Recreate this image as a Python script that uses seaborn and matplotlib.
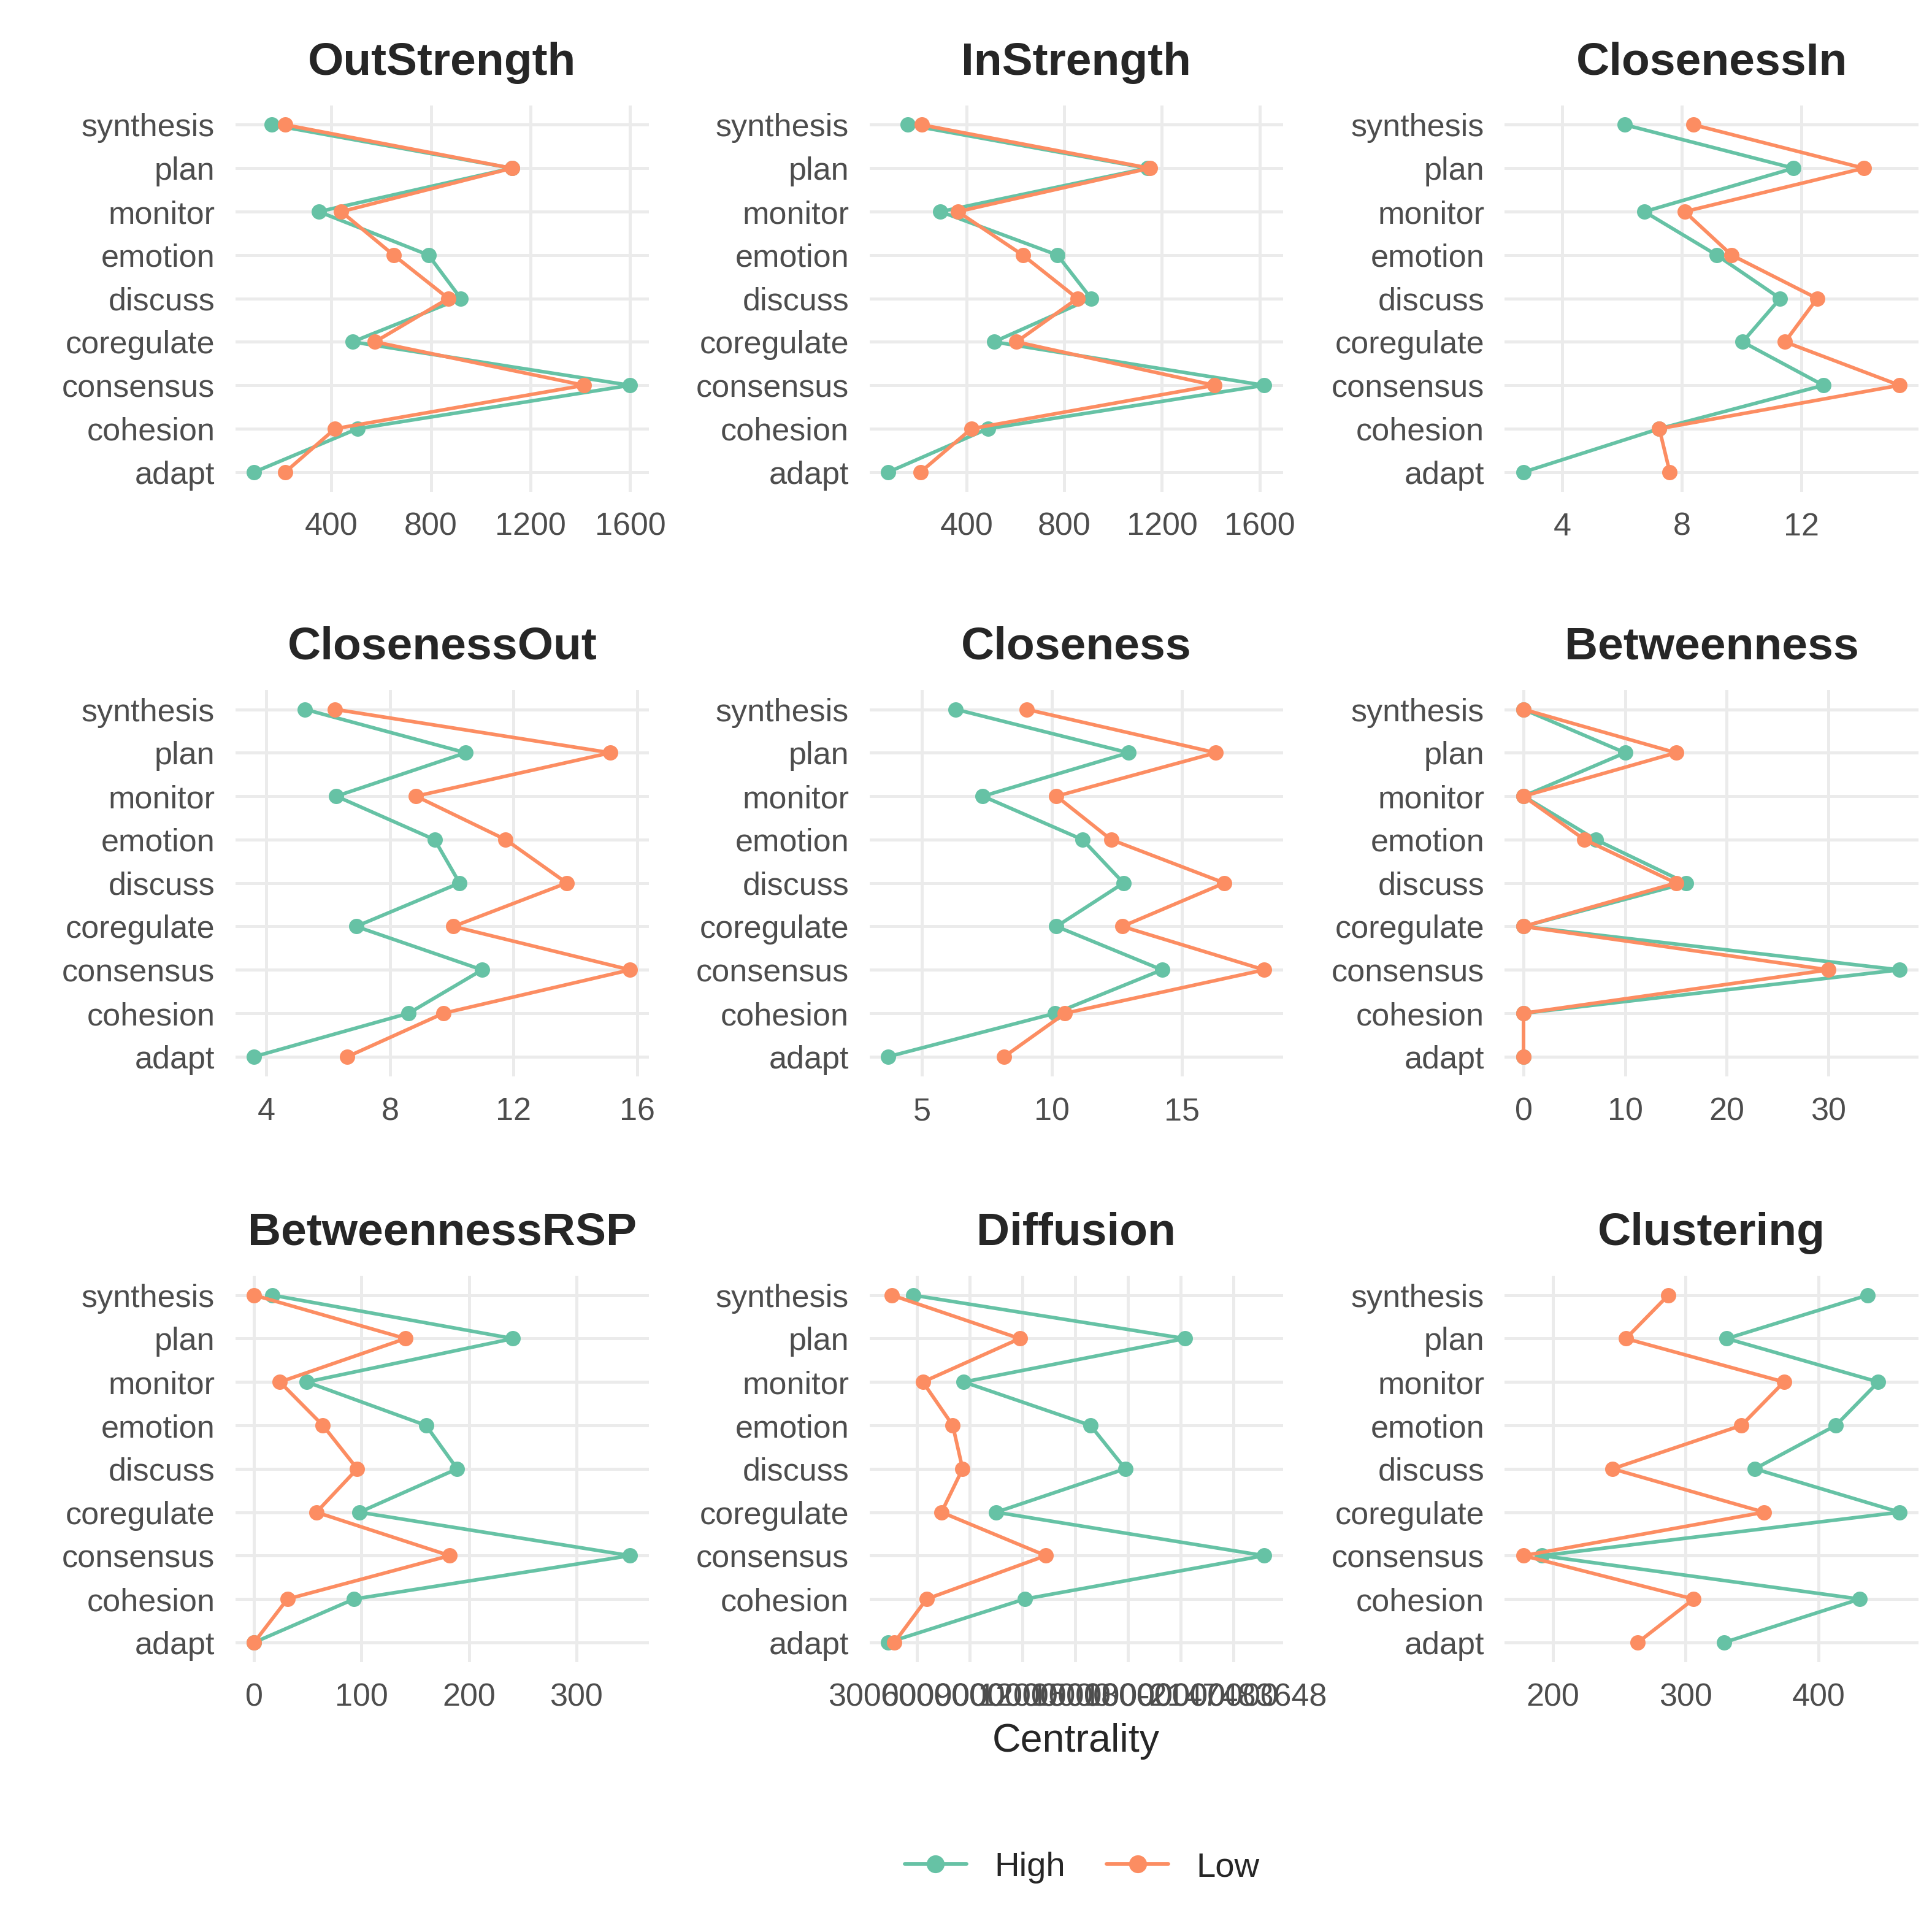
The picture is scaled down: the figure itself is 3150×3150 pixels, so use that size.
import numpy as np
import pandas as pd
import matplotlib.pyplot as plt
import seaborn as sns
from matplotlib.lines import Line2D

states = ['synthesis', 'plan', 'monitor', 'emotion', 'discuss', 'coregulate', 'consensus', 'cohesion', 'adapt']

measures = ['OutStrength', 'InStrength', 'ClosenessIn', 'ClosenessOut', 'Closeness',
            'Betweenness', 'BetweennessRSP', 'Diffusion', 'Clustering']

high = {
    'OutStrength': [160, 1125, 350, 790, 920, 485, 1600, 505, 90],
    'InStrength': [160, 1140, 293, 772, 910, 512, 1619, 487, 79],
    'ClosenessIn': [6.1, 11.75, 6.75, 9.17, 11.3, 10.04, 12.75, 7.25, 2.7],
    'ClosenessOut': [5.25, 10.45, 6.26, 9.44, 10.25, 6.9, 10.98, 8.6, 3.6],
    'Closeness': [6.3, 12.94, 7.34, 11.17, 12.75, 10.17, 14.23, 10.12, 3.7],
    'Betweenness': [0, 10, 0, 7.1, 16, 0, 37, 0, 0],
    'BetweennessRSP': [17, 241, 49, 160, 189, 98, 350, 93, 0],
    'Diffusion': [2.79, 18.25, 5.68, 12.88, 14.86, 7.52, 22.76, 9.14, 1.38],
    'Clustering': [437, 331, 445, 413, 352, 461, 192, 431, 329],
}
low = {
    'OutStrength': [215, 1125, 440, 650, 870, 575, 1415, 415, 215],
    'InStrength': [216, 1150, 364, 630, 854, 604, 1415, 420, 211],
    'ClosenessIn': [8.4, 14.1, 8.1, 9.67, 12.54, 11.46, 15.3, 7.25, 7.6],
    'ClosenessOut': [6.22, 15.13, 8.84, 11.74, 13.72, 10.05, 15.77, 9.73, 6.62],
    'Closeness': [9.02, 16.3, 10.17, 12.27, 16.63, 12.7, 18.16, 10.5, 8.16],
    'Betweenness': [0, 15, 0, 6, 15, 0, 30, 0, 0],
    'BetweennessRSP': [0, 141, 24, 64, 96, 58, 182, 31, 0],
    'Diffusion': [1.59, 8.86, 3.35, 5.05, 5.61, 4.41, 10.34, 3.56, 1.73],
    'Clustering': [287, 255, 374, 342, 245, 359, 178, 306, 264],
}

ticks = {
    'OutStrength': [400, 800, 1200, 1600],
    'InStrength': [400, 800, 1200, 1600],
    'ClosenessIn': [4, 8, 12],
    'ClosenessOut': [4, 8, 12, 16],
    'Closeness': [5, 10, 15],
    'Betweenness': [0, 10, 20, 30],
    'BetweennessRSP': [0, 100, 200, 300],
    'Diffusion': [3, 6, 9, 12, 15, 18, 21],
    'Clustering': [200, 300, 400],
}
diffusion_labels = ['3000000000', '6000000000', '9000000000', '12000000000',
                    '15000000000', '18000000000', '-2147483648']

colors = {'High': '#66C2A5', 'Low': '#FC8D62'}

sns.set_theme(style='whitegrid')
plt.rcParams['font.family'] = ['Liberation Sans', 'DejaVu Sans']

fig = plt.figure(figsize=(10.5, 10.5), dpi=300)
W, H = 1560, 1560
lefts = [190, 702, 1215]
bottoms = [397, 869, 1342]
pos = list(range(len(states) - 1, -1, -1))

for i, m in enumerate(measures):
    r, c = divmod(i, 3)
    ax = fig.add_axes([lefts[c] / W, 1 - bottoms[r] / H, 334 / W, 312 / H])
    df = pd.concat([
        pd.DataFrame({'value': high[m], 'pos': pos, 'group': 'High'}),
        pd.DataFrame({'value': low[m], 'pos': pos, 'group': 'Low'}),
    ])
    sns.lineplot(data=df, x='value', y='pos', hue='group', palette=colors, orient='y',
                 sort=False, marker='o', markersize=6, markeredgewidth=0, linewidth=1.4,
                 legend=False, ax=ax)
    allv = high[m] + low[m]
    span = max(allv) - min(allv)
    ax.set_xlim(min(allv) - span * 0.05, max(allv) + span * 0.05)
    ax.set_ylim(-0.45, 8.45)
    ax.set_xticks(ticks[m])
    if m == 'Diffusion':
        ax.set_xticklabels(diffusion_labels)
    ax.set_yticks(pos)
    ax.set_yticklabels(states)
    ax.tick_params(axis='both', labelsize=12.5, colors='#4D4D4D', pad=2)
    ax.set_facecolor('white')
    ax.grid(True, color='#EBEBEB', linewidth=1.2)
    for s in ax.spines.values():
        s.set_visible(False)
    ax.set_xlabel('Centrality' if m == 'Diffusion' else '', fontsize=15.5)
    ax.set_ylabel('')
    ax.set_title(m, fontsize=18, fontweight='bold', pad=12)

handles = [Line2D([], [], color=colors[g], marker='o', markersize=6, linewidth=1.4) for g in ['High', 'Low']]
fig.legend(handles, ['High', 'Low'], loc='center', bbox_to_anchor=(0.56, 1 - 1508 / H), ncol=2,
           frameon=False, fontsize=13.5, handlelength=1.8, columnspacing=1.2)

plt.savefig('out.png', dpi=300, facecolor='white')
